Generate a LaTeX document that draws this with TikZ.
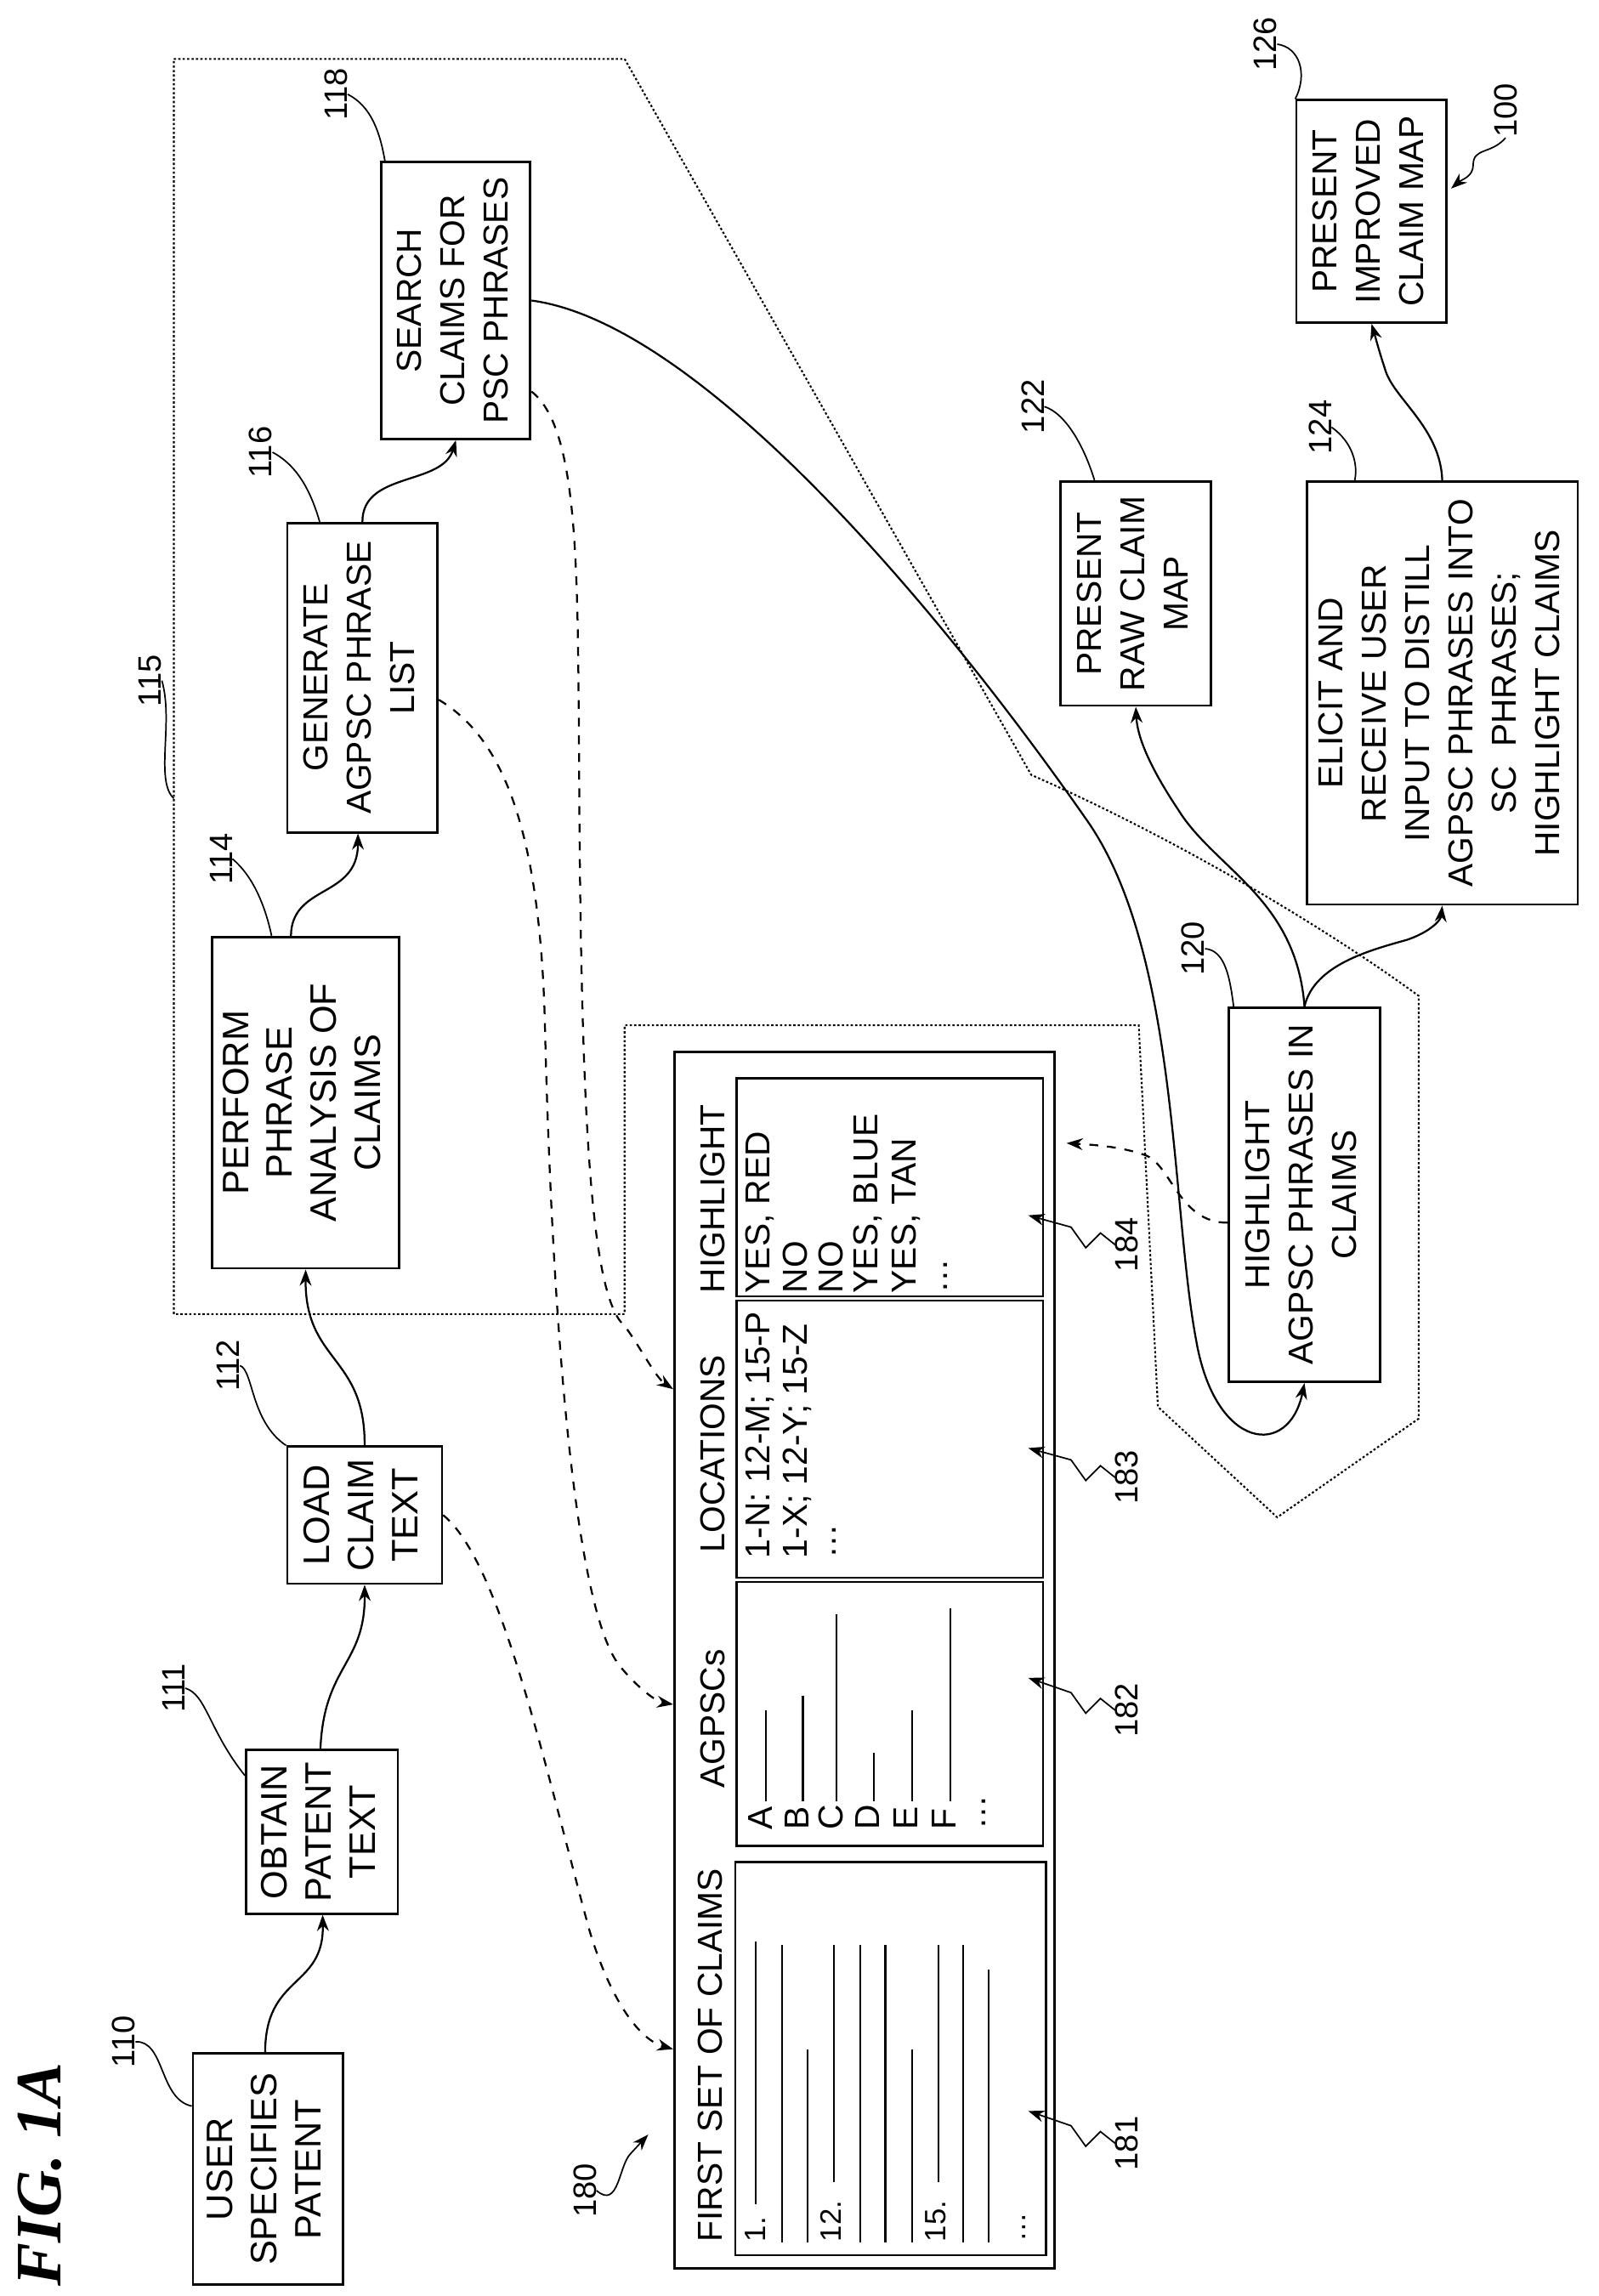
\documentclass[tikz,border=0pt]{standalone}
\usepackage{fontspec}
\setmainfont{Liberation Sans}
\newfontfamily\figfont{Liberation Serif}
\usetikzlibrary{arrows.meta,calc}
\newcommand\bt[1]{\rotatebox{90}{\begin{tabular}{@{}c@{}}#1\end{tabular}}}
\newcommand\rt[1]{\rotatebox{90}{#1}}
\begin{document}
\begin{tikzpicture}[x=1pt,y=-1pt,
  box/.style={draw,line width=1.6pt,inner sep=0pt,font=\fontsize{23.5}{29.4}\selectfont},
  lbox/.style={box,font=\fontsize{25}{30}\selectfont},
  lab/.style={inner sep=0pt,font=\fontsize{22}{26}\selectfont},
  tt/.style={rotate=90,anchor=west,inner sep=0pt,font=\fontsize{23.5}{28}\selectfont},
  ct/.style={rotate=90,anchor=west,inner sep=0pt,font=\fontsize{20}{24}\selectfont},
  conn/.style={line width=1.3pt,-{Stealth[length=11pt,width=8pt]}},
  dconn/.style={line width=1.3pt,dash pattern=on 6pt off 6pt,-{Stealth[length=11pt,width=8pt]}},
  lead/.style={line width=1pt},
  dotb/.style={line width=1.2pt,dash pattern=on 1.5pt off 1.5pt},
  tline/.style={line width=1.2pt}]
\useasboundingbox (0,0) rectangle (1085.4,1558.6);
% FIG label
\node[rotate=90,inner sep=0pt,font=\figfont\bfseries\itshape\fontsize{44}{48}\selectfont] (fig) at (27,1476) {FIG. 1A};
% dotted enclosure 115
\draw[dotb] (118,40) -- (424,40) -- (700,526) .. controls (800,570) and (900,630) .. (963,676) -- (963,963) -- (867,1030) -- (786,955) -- (773,696) -- (424,696) -- (424,892) -- (118,892) -- cycle;
% boxes
\node[lbox,minimum width=102pt,minimum height=157pt] (n110) at (182,1472.5) {\bt{USER\\SPECIFIES\\PATENT}};
\node[lbox,minimum width=103pt,minimum height=111pt] (n111) at (218.5,1243.5) {\bt{OBTAIN\\PATENT\\TEXT}};
\node[lbox,minimum width=105pt,minimum height=93pt] (n112) at (247.5,1028.5) {\bt{LOAD\\CLAIM\\TEXT}};
\node[lbox,minimum width=127pt,minimum height=225pt] (n114) at (207.5,748.5) {\bt{PERFORM\\PHRASE\\ANALYSIS OF\\CLAIMS}};
\node[box,minimum width=102pt,minimum height=210pt] (n116) at (246,460) {\bt{GENERATE\\AGPSC PHRASE\\LIST}};
\node[box,minimum width=101pt,minimum height=188pt] (n118) at (309.5,204) {\bt{SEARCH\\CLAIMS FOR\\PSC PHRASES}};
\node[box,minimum width=103pt,minimum height=254pt] (n120) at (885.5,811) {\bt{HIGHLIGHT\\AGPSC PHRASES IN\\CLAIMS}};
\node[box,minimum width=102pt,minimum height=152pt] (n122) at (771,403) {\bt{PRESENT\\RAW CLAIM\\MAP}};
\node[box,minimum width=184pt,minimum height=287pt] (n124) at (979,470.5) {\bt{ELICIT AND\\RECEIVE USER\\INPUT TO DISTILL\\AGPSC PHRASES INTO\\SC\ \ PHRASES;\\HIGHLIGHT CLAIMS}};
\node[box,minimum width=102pt,minimum height=151pt] (n126) at (931,143.5) {\bt{PRESENT\\IMPROVED\\CLAIM MAP}};
% table 180
\node[draw,line width=1.6pt,minimum width=258pt,minimum height=826pt,inner sep=0pt] (tab) at (587,1127) {};
\node[draw,line width=1.4pt,minimum width=208pt,minimum height=148pt,inner sep=0pt] (c184) at (604,806) {};
\node[draw,line width=1.4pt,minimum width=208pt,minimum height=188pt,inner sep=0pt] (c183) at (604,977) {};
\node[draw,line width=1.4pt,minimum width=208pt,minimum height=179pt,inner sep=0pt] (c182) at (604,1163.5) {};
\node[draw,line width=1.4pt,minimum width=211pt,minimum height=267pt,inner sep=0pt] (c181) at (604.5,1397.5) {};
\node[tt] (h1) at (484,878) {HIGHLIGHT};
\node[tt] (h2) at (484,1054) {LOCATIONS};
\node[tt] (h3) at (484,1214) {AGPSCs};
\node[tt] (h4) at (482,1522) {FIRST SET OF CLAIMS};
% highlight column
\node[tt] (r1) at (516,878) {YES, RED};
\node[tt] (r2) at (540,878) {NO};
\node[tt] (r3) at (564,878) {NO};
\node[tt] (r4) at (589,878) {YES, BLUE};
\node[tt] (r5) at (615,878) {YES, TAN};
\node[tt] (r6) at (642,878) {\dots};
% locations column
\node[tt] (l1) at (516,1058) {1-N: 12-M; 15-P};
\node[tt] (l2) at (541,1058) {1-X; 12-Y; 15-Z};
\node[tt] (l3) at (566,1058) {\dots};
% agpsc column
\foreach \x/\ch/\e in {516/A/1161,541/B/1151,564/C/1096,589/D/1190,615/E/1161,641/F/1092}{
  \node[tt] (a\ch) at (\x,1242) {\ch};
  \draw[tline] (\x+4,1223) -- (\x+4,\e);
}
\node[tt] (adots) at (668,1242) {\dots};
% claims column
\node[ct] (k1) at (513,1522) {1.};
\node[ct] (k12) at (564,1522) {12.};
\node[ct] (k15) at (635,1522) {15.};
\node[ct] (kd) at (695,1522) {\dots};
\foreach \x/\s/\e in {513/1496/1318,531/1522/1320,548/1522/1391,566/1481/1320,584/1522/1320,601/1522/1320,619/1522/1391,637/1481/1320,654/1522/1320,671/1522/1337}{
  \draw[tline] (\x,\s) -- (\x,\e);
}
% labels
\node[lab] (l110) at (84,1386) {\rt{110}};
\node[lab] (l111) at (118,1146) {\rt{111}};
\node[lab] (l112) at (155,927) {\rt{112}};
\node[lab] (l114) at (150,583) {\rt{114}};
\node[lab] (l115) at (102,462) {\rt{115}};
\node[lab] (l116) at (177,307) {\rt{116}};
\node[lab] (l118) at (228,64) {\rt{118}};
\node[lab] (l120) at (810,644) {\rt{120}};
\node[lab] (l122) at (701,276) {\rt{122}};
\node[lab] (l124) at (896,290) {\rt{124}};
\node[lab] (l126) at (859,30) {\rt{126}};
\node[lab] (l100) at (1022,75) {\rt{100}};
\node[lab] (l180) at (397,1487) {\rt{180}};
\node[lab] (l181) at (765,1455) {\rt{181}};
\node[lab] (l182) at (765,1161) {\rt{182}};
\node[lab] (l183) at (765,1003) {\rt{183}};
\node[lab] (l184) at (765,845) {\rt{184}};
% leaders
\draw[lead] (l110.east) .. controls (112,1385) and (108,1425) .. ($(n110.north west)!0.23!(n110.south west)$);
\draw[lead] (l111.east) .. controls (140,1150) and (142,1175) .. ($(n111.north west)!0.16!(n111.south west)$);
\draw[lead] (l112.east) .. controls (172,930) and (170,965) .. (n112.north west);
\draw[lead] (l114.east) .. controls (172,595) and (180,615) .. ($(n114.north west)!0.32!(n114.north east)$);
\draw[lead] (l115.east) .. controls (118,490) and (105,530) .. (118,542);
\draw[lead] (l116.east) .. controls (200,315) and (210,330) .. ($(n116.north west)!0.22!(n116.north east)$);
\draw[lead] (l118.east) .. controls (252,72) and (258,90) .. ($(n118.north west)!0.03!(n118.north east)$);
\draw[lead] (l120.east) .. controls (832,645) and (835,665) .. ($(n120.north west)!0.04!(n120.north east)$);
\draw[lead] (l122.east) .. controls (722,280) and (735,300) .. ($(n122.north west)!0.23!(n122.north east)$);
\draw[lead] (l124.east) .. controls (918,300) and (922,315) .. ($(n124.north west)!0.18!(n124.north east)$);
\draw[lead] (l126.east) .. controls (882,32) and (888,50) .. (n126.north west);
\coordinate (p100) at (985,128);
\draw[conn,line width=1pt] (l100.south) .. controls (1012,105) and (1000,100) .. (1000,112) .. controls (1000,120) and (992,122) .. (p100);
\coordinate (p180) at (440,1449);
\draw[conn,line width=1pt] (l180.east) .. controls (420,1500) and (420,1470) .. (428,1462) -- (p180);
\foreach \n/\y in {184/825,183/983,182/1139,181/1433}{
  \coordinate (q\n) at (698,\y);
  \draw[conn,line width=1pt] (l\n.west) -- ++(-10,-8) -- ++(-10,10) -- ++(-10,-14) -- (q\n);
}
% solid connectors
\draw[conn] ($(n110.north)+(-2,0)$) .. controls (180,1340) and (220,1350) .. ($(n111.south)+(0.5,0)$);
\draw[conn] ($(n111.north)+(-1,0)$) .. controls (220,1130) and (248,1130) .. (n112.south);
\draw[conn] (n112.north) .. controls (248,920) and (207,925) .. (n114.south);
\draw[conn] ($(n114.north)+(-10,0)$) .. controls (198,600) and (243,610) .. ($(n116.south)+(-3,0)$);
\draw[conn] (n116.north) .. controls (246,320) and (300,330) .. ($(n118.south)+(0,0)$);
\draw[conn] (n118.east) .. controls (480,220) and (650,430) .. (740,560) .. controls (800,650) and (795,820) .. (812,910) .. controls (825,985) and (875,990) .. (n120.south);
\draw[conn] (n120.north) .. controls (880,610) and (825,590) .. (800,550) .. controls (780,520) and (772,500) .. (n122.south);
\draw[conn] (n120.north) .. controls (892,655) and (930,645) .. (955,638) .. controls (970,633) and (978,625) .. (n124.south);
\draw[conn] (n124.north) .. controls (978,290) and (945,270) .. (940,250) .. controls (936,238) and (934,230) .. (n126.south);
% dashed connectors
\coordinate (tClm) at (457,1391);
\coordinate (tAg) at (457,1157);
\coordinate (tLoc) at (457,943);
\coordinate (tHl) at (724,776);
\draw[dconn] (n112.east) .. controls (340,1060) and (370,1200) .. (400,1310) .. controls (415,1360) and (435,1385) .. (tClm);
\draw[dconn] ($(n116.east)+(0,15)$) .. controls (340,500) and (367,560) .. (370,700) .. controls (375,900) and (390,1090) .. (420,1130) .. controls (432,1145) and (445,1155) .. (tAg);
\draw[dconn] ($(n118.south east)+(0,-33)$) .. controls (392,290) and (392,380) .. (393,500) .. controls (394,750) and (400,880) .. (424,900) .. controls (435,915) and (445,935) .. (tLoc);
\draw[dconn] ($(n120.west)+(0,19)$) .. controls (800,830) and (795,790) .. (777,784) .. controls (760,778) and (740,777) .. (tHl);
\end{tikzpicture}
\end{document}
